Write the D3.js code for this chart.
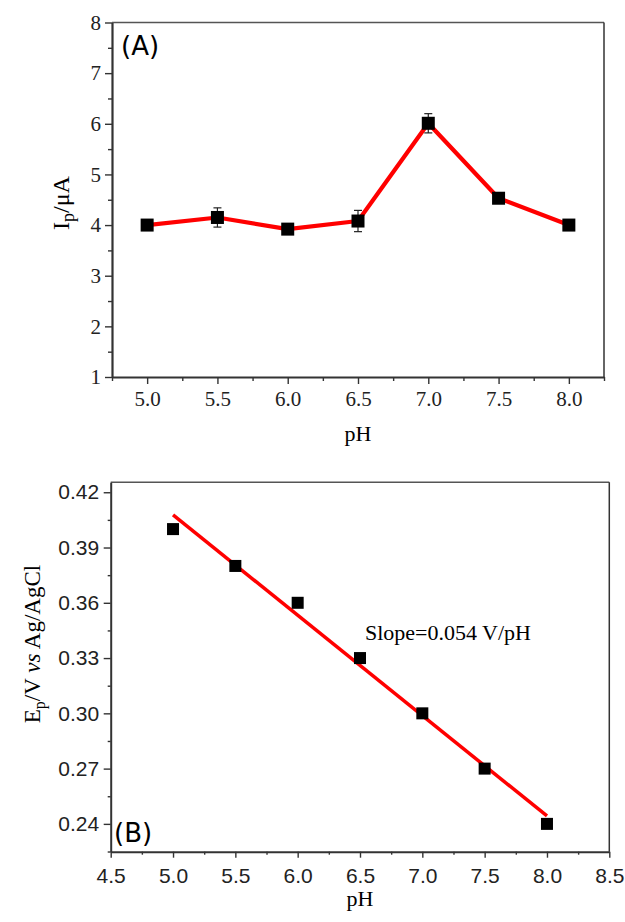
<!DOCTYPE html>
<html><head><meta charset="utf-8">
<script src="https://cdn.jsdelivr.net/npm/d3@7"></script>
<style>body{margin:0;background:#fff}</style>
</head><body>
<svg id="c" width="625" height="922"></svg>
<script>
// Panel A data
const pHA = [5.0, 5.5, 6.0, 6.5, 7.0, 7.5, 8.0];
const ipA = [4.00, 4.15, 3.92, 4.08, 6.01, 4.53, 4.00];
const errA = [0.10, 0.19, 0.07, 0.21, 0.19, 0.05, 0.05];
const xTicksA = [5.0, 5.5, 6.0, 6.5, 7.0, 7.5, 8.0];
const yTicksA = [1, 2, 3, 4, 5, 6, 7, 8];
// Panel B data
const pHB = [5.0, 5.5, 6.0, 6.5, 7.0, 7.5, 8.0];
const epB = [0.400, 0.380, 0.360, 0.330, 0.300, 0.270, 0.240];
const fitX = [5.0, 8.0];
const fitY = [0.4077, 0.2443];
const xTicksB = [4.5, 5.0, 5.5, 6.0, 6.5, 7.0, 7.5, 8.0, 8.5];
const yTicksB = [0.24, 0.27, 0.30, 0.33, 0.36, 0.39, 0.42];

const svg = d3.select("#c");
const axisCol = "#333";
const serif = "'Liberation Serif', 'Times New Roman', serif";
const sans = "'Liberation Sans', Arial, sans-serif";

function frame(g, L, T, R, B) {
  g.append("line").attr("x1", L).attr("x2", R).attr("y1", T).attr("y2", T).attr("stroke", "#555").attr("stroke-width", 1.5);
  g.append("line").attr("x1", R).attr("x2", R).attr("y1", T).attr("y2", B).attr("stroke", "#333").attr("stroke-width", 1.5);
}

// ---------- Panel A ----------
{
  const L = 112, T = 22.5, R = 604, B = 377;
  const x = d3.scaleLinear().domain([4.75, 8.25]).range([L, R]);
  const y = d3.scaleLinear().domain([1, 8]).range([B, T]);
  const g = svg.append("g");
  frame(g, L, T, R, B);
  const minorX = d3.range(4.75, 8.26, 0.25).filter(v => !xTicksA.some(t => Math.abs(t - v) < 1e-6));
  const minorY = d3.range(1.5, 8, 1);
  g.append("g").attr("transform", `translate(0,${B})`)
    .call(d3.axisBottom(x).tickValues(xTicksA).tickFormat(d3.format(".1f")).tickSize(7).tickSizeOuter(0).tickPadding(7));
  g.append("g").attr("transform", `translate(0,${B})`)
    .call(d3.axisBottom(x).tickValues(minorX).tickFormat("").tickSize(4).tickSizeOuter(0))
    .call(s => s.select(".domain").remove());
  g.append("g").attr("transform", `translate(${L},0)`)
    .call(d3.axisLeft(y).tickValues(yTicksA).tickFormat(d3.format("d")).tickSize(7).tickSizeOuter(0).tickPadding(4));
  g.append("g").attr("transform", `translate(${L},0)`)
    .call(d3.axisLeft(y).tickValues(minorY).tickFormat("").tickSize(4).tickSizeOuter(0))
    .call(s => s.select(".domain").remove());
  g.selectAll(".domain").attr("stroke", axisCol).attr("stroke-width", 2.2);
  g.selectAll(".tick line").attr("stroke", axisCol).attr("stroke-width", 1.4);
  g.selectAll(".tick text").attr("font-family", serif).attr("font-size", 21).attr("fill", "#222");
  const pts = pHA.map((v, i) => [v, ipA[i]]);
  g.append("path").datum(pts)
    .attr("d", d3.line().x(d => x(d[0])).y(d => y(d[1])))
    .attr("fill", "none").attr("stroke", "#ff0000").attr("stroke-width", 4.2).attr("stroke-linejoin", "round");
  const eg = g.append("g").attr("stroke", "#222").attr("stroke-width", 1.2);
  pHA.forEach((v, i) => {
    const cx = x(v), y1 = y(ipA[i] + errA[i]), y2 = y(ipA[i] - errA[i]);
    eg.append("line").attr("x1", cx).attr("x2", cx).attr("y1", y1).attr("y2", y2);
    eg.append("line").attr("x1", cx - 4).attr("x2", cx + 4).attr("y1", y1).attr("y2", y1);
    eg.append("line").attr("x1", cx - 4).attr("x2", cx + 4).attr("y1", y2).attr("y2", y2);
  });
  g.selectAll("rect.m").data(pts).enter().append("rect")
    .attr("x", d => x(d[0]) - 6.5).attr("y", d => y(d[1]) - 6.5)
    .attr("width", 13).attr("height", 13).attr("fill", "#000");
  g.append("text").attr("x", 121).attr("y", 55).attr("font-family", "'DejaVu Sans', sans-serif").attr("font-size", 26).text("(A)");
  g.append("text").attr("x", (L + R) / 2).attr("y", 441).attr("text-anchor", "middle")
    .attr("font-family", serif).attr("font-size", 22).text("pH");
  const yl = g.append("text").attr("transform", `translate(69,203) rotate(-90)`).attr("text-anchor", "middle")
    .attr("font-family", serif).attr("font-size", 24);
  yl.append("tspan").text("I");
  yl.append("tspan").attr("font-size", 18).attr("dy", 5).text("p");
  yl.append("tspan").attr("dy", -5).text("/μA");
}

// ---------- Panel B ----------
{
  const L = 110.7, T = 482.3, R = 609.3, B = 851.7;
  const x = d3.scaleLinear().domain([4.5, 8.5]).range([L, R]);
  const y = d3.scaleLinear().domain([0.2249, 0.4254]).range([B, T]);
  const g = svg.append("g");
  frame(g, L, T, R, B);
  const minorX = d3.range(4.75, 8.5, 0.5);
  const minorY = d3.range(0.225, 0.42, 0.03);
  g.append("g").attr("transform", `translate(0,${B})`)
    .call(d3.axisBottom(x).tickValues(xTicksB).tickFormat(d3.format(".1f")).tickSize(6).tickSizeOuter(0).tickPadding(10));
  g.append("g").attr("transform", `translate(0,${B})`)
    .call(d3.axisBottom(x).tickValues(minorX).tickFormat("").tickSize(3).tickSizeOuter(0))
    .call(s => s.select(".domain").remove());
  g.append("g").attr("transform", `translate(${L},0)`)
    .call(d3.axisLeft(y).tickValues(yTicksB).tickFormat(d3.format(".2f")).tickSize(7).tickSizeOuter(0).tickPadding(4.5));
  g.append("g").attr("transform", `translate(${L},0)`)
    .call(d3.axisLeft(y).tickValues(minorY).tickFormat("").tickSize(3).tickSizeOuter(0))
    .call(s => s.select(".domain").remove());
  g.selectAll(".domain").attr("stroke", axisCol).attr("stroke-width", 2);
  g.selectAll(".tick line").attr("stroke", axisCol).attr("stroke-width", 1.4);
  g.selectAll(".tick text").attr("font-family", sans).attr("font-size", 21).attr("fill", "#222");
  g.append("path").datum(fitX.map((v, i) => [v, fitY[i]]))
    .attr("d", d3.line().x(d => x(d[0])).y(d => y(d[1])))
    .attr("fill", "none").attr("stroke", "#ff0000").attr("stroke-width", 3.5);
  g.selectAll("rect.m").data(pHB.map((v, i) => [v, epB[i]])).enter().append("rect")
    .attr("x", d => x(d[0]) - 6).attr("y", d => y(d[1]) - 6)
    .attr("width", 12).attr("height", 12).attr("fill", "#000");
  g.append("text").attr("x", 114).attr("y", 842).attr("font-family", "'DejaVu Sans', sans-serif").attr("font-size", 26).text("(B)");
  g.append("text").attr("x", 365).attr("y", 640).attr("font-family", serif).attr("font-size", 22).text("Slope=0.054 V/pH");
  g.append("text").attr("x", (L + R) / 2).attr("y", 906).attr("text-anchor", "middle")
    .attr("font-family", serif).attr("font-size", 22).text("pH");
  const yl = g.append("text").attr("transform", `translate(40,644) rotate(-90)`).attr("text-anchor", "middle")
    .attr("font-family", serif).attr("font-size", 23);
  yl.append("tspan").text("E");
  yl.append("tspan").attr("font-size", 16).attr("dy", 5).text("p");
  yl.append("tspan").attr("dy", -5).text("/V ");
  yl.append("tspan").attr("font-style", "italic").text("vs");
  yl.append("tspan").text(" Ag/AgCl");
}
</script>
</body></html>
